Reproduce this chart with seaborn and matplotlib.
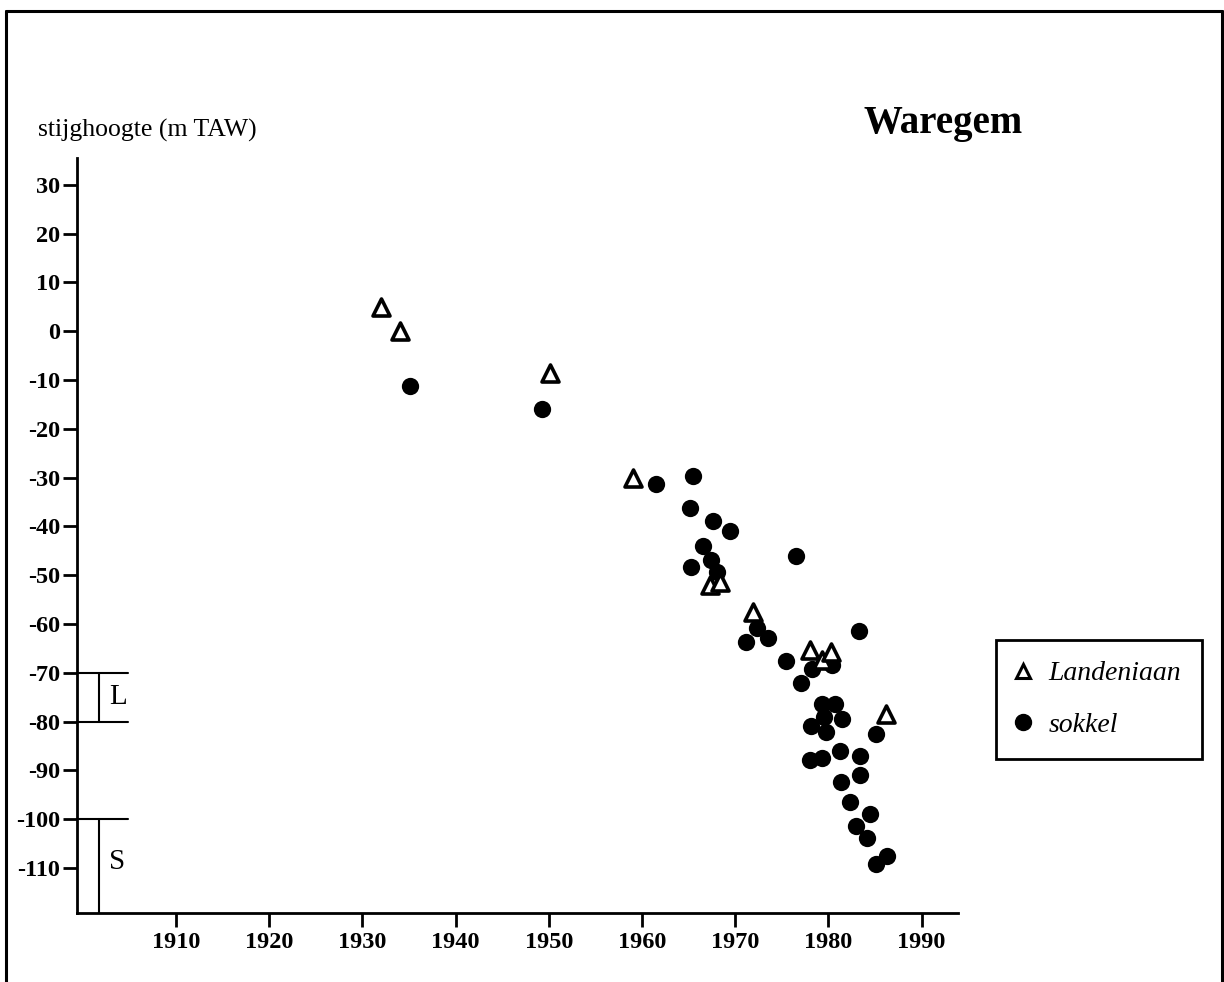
import matplotlib
matplotlib.use("Agg")
import matplotlib.pyplot as plt
import seaborn as sns
import pandas as pd
from matplotlib.lines import Line2D

# ---- data ----
land_year = [1932.0, 1934.0, 1950.1, 1959.0, 1967.3, 1968.4, 1971.9,
             1978.0, 1979.3, 1980.3, 1986.2]
land_level = [5.0, 0.0, -8.5, -30.0, -52.0, -51.3, -57.6,
              -65.4, -67.3, -65.8, -78.4]

sokkel_year = [1935.1, 1949.3, 1961.5, 1965.5, 1965.2, 1967.6, 1969.4,
               1966.5, 1965.3, 1967.4, 1968.1, 1976.5, 1972.3, 1971.2,
               1973.5, 1975.4, 1977.1, 1978.2, 1980.4, 1983.3, 1979.3,
               1980.7, 1979.5, 1981.5, 1978.1, 1979.7, 1985.1, 1978.0,
               1979.3, 1981.2, 1983.4, 1983.4, 1981.4, 1982.3, 1984.5,
               1983.0, 1984.1, 1986.3, 1985.1]
sokkel_level = [-11.2, -15.9, -31.3, -29.6, -36.3, -38.8, -40.9,
                -44.1, -48.3, -46.8, -49.4, -46.0, -60.8, -63.7,
                -62.9, -67.5, -72.0, -69.2, -68.4, -61.5, -76.4,
                -76.4, -79.0, -79.5, -80.9, -82.2, -82.5, -87.8,
                -87.5, -86.1, -87.0, -90.9, -92.3, -96.4, -98.9,
                -101.4, -103.9, -107.6, -109.1]

x_ticks = [1910, 1920, 1930, 1940, 1950, 1960, 1970, 1980, 1990]
y_ticks = [30, 20, 10, 0, -10, -20, -30, -40, -50, -60, -70, -80, -90, -100, -110]
layer_L = [-70, -80]
layer_S = [-100]
legend_labels = ["Landeniaan", "sokkel"]

# ---- styling ----
sns.set_theme(style="white")
plt.rcParams['font.family'] = ['Liberation Serif', 'DejaVu Serif']
for k in ["text.color", "axes.labelcolor", "xtick.color", "ytick.color"]:
    plt.rcParams[k] = "black"

W, H = 1224, 982
fig = plt.figure(figsize=(W / 100, H / 100), dpi=100)
ax = fig.add_axes([77 / W, 1 - 913 / H, (958 - 77) / W, (913 - 158) / H])

df_s = pd.DataFrame({"jaar": sokkel_year, "stijghoogte": sokkel_level})
df_l = pd.DataFrame({"jaar": land_year, "stijghoogte": land_level})

sns.scatterplot(data=df_s, x="jaar", y="stijghoogte", ax=ax, marker="o",
                s=155, color="black", edgecolor="black", linewidth=0,
                legend=False, zorder=3)
sns.scatterplot(data=df_l, x="jaar", y="stijghoogte", ax=ax, marker="^",
                s=150, color="white", edgecolor="black", linewidth=2.6,
                legend=False, zorder=4)

ax.set_xlim(1899.4, 1993.9)
ax.set_ylim(-119.2, 35.5)
ax.set_xticks(x_ticks)
ax.set_yticks(y_ticks)
ax.set_xticklabels([str(t) for t in x_ticks], fontsize=17.5, fontweight="bold")
ax.set_yticklabels([str(t) for t in y_ticks], fontsize=17.5, fontweight="bold")
ax.tick_params(axis="both", direction="out", length=10, width=2, color="black",
               bottom=True, left=True)
ax.tick_params(axis="x", pad=4)
ax.tick_params(axis="y", pad=2)
for side in ["top", "right"]:
    ax.spines[side].set_visible(False)
for side in ["left", "bottom"]:
    ax.spines[side].set_color("black")
    ax.spines[side].set_linewidth(2)
ax.set_xlabel("")
ax.set_ylabel("")
ax.grid(False)

# layer markers L and S
x0, x_mid, x1 = 1899.4, 1901.8, 1904.9
for v in layer_L + layer_S:
    ax.plot([x0, x1], [v, v], color="black", lw=1.5, clip_on=False, zorder=2)
ax.plot([x_mid, x_mid], layer_L, color="black", lw=1.5, clip_on=False, zorder=2)
ax.plot([x_mid, x_mid], [layer_S[0], -119.2], color="black", lw=1.5,
        clip_on=False, zorder=2)
ax.text(1903.8, -75, "L", fontsize=21, ha="center", va="center")
ax.text(1903.7, -108.8, "S", fontsize=21, ha="center", va="center")

# titles
fig.text(38 / W, 1 - 130 / H, "stijghoogte (m TAW)", fontsize=18.5,
         ha="left", va="center")
fig.text(863 / W, 1 - 124 / H, "Waregem", fontsize=28, fontweight="bold",
         ha="left", va="center")

# legend
handles = [
    Line2D([], [], marker="^", linestyle="none", markersize=10,
           markerfacecolor="white", markeredgecolor="black", markeredgewidth=2.2),
    Line2D([], [], marker="o", linestyle="none", markersize=11.5,
           markerfacecolor="black", markeredgecolor="black"),
]
leg = fig.legend(handles, legend_labels, loc="upper left",
                 bbox_to_anchor=(996 / W, 1 - 640 / H),
                 prop={"family": "Liberation Serif", "style": "italic", "size": 20},
                 frameon=True, fancybox=False, edgecolor="black", framealpha=1,
                 handlelength=0.45, handletextpad=0.7, labelspacing=0.95,
                 borderpad=0.75, borderaxespad=0)
leg.get_frame().set_linewidth(2)

# outer frame
for xs, ys in [([6 / W, 6 / W], [0, 1 - 11 / H]),
               ([6 / W, 1222 / W], [1 - 11 / H, 1 - 11 / H]),
               ([1222 / W, 1222 / W], [1 - 11 / H, 0])]:
    fig.add_artist(Line2D(xs, ys, color="black", lw=2.2))

fig.savefig("out.png", dpi=100, facecolor="white")
